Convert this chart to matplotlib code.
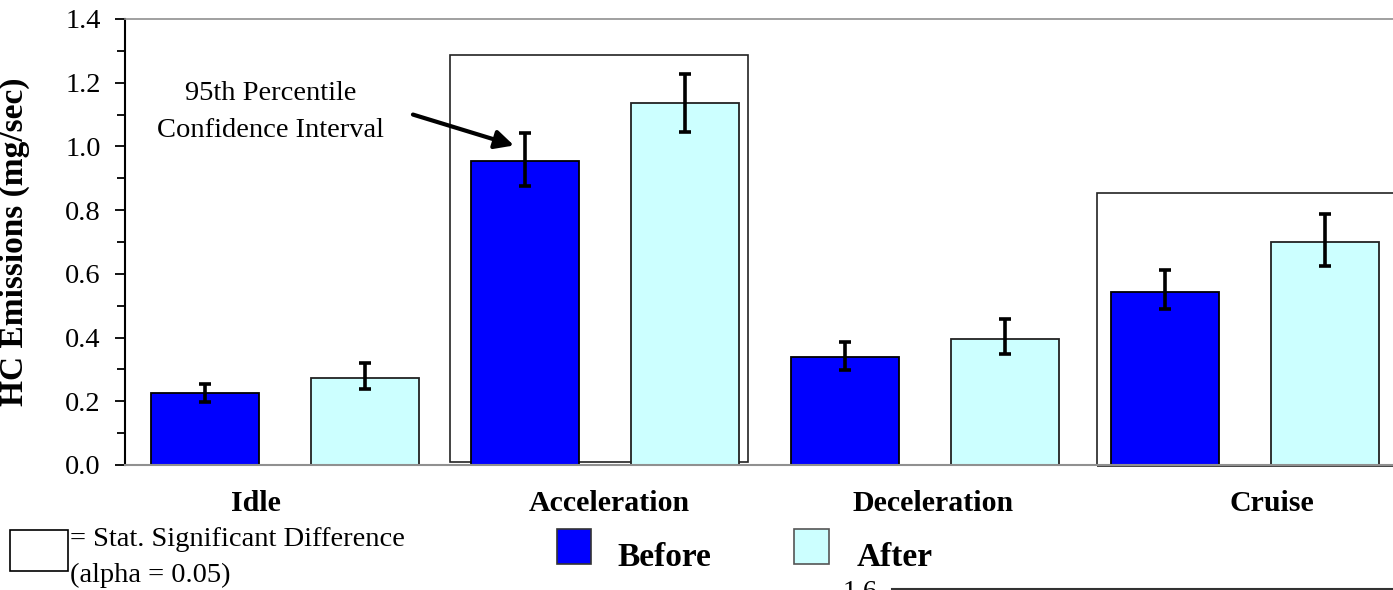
import matplotlib
matplotlib.use("Agg")
import matplotlib.pyplot as plt
from matplotlib.patches import Rectangle
from matplotlib.ticker import MultipleLocator, FormatStrFormatter
import numpy as np

plt.rcParams['font.family'] = ['Liberation Serif', 'DejaVu Serif']

modes = ['Idle', 'Acceleration', 'Deceleration', 'Cruise']
before = [0.226, 0.953, 0.340, 0.544]
before_lo = [0.198, 0.877, 0.299, 0.490]
before_hi = [0.255, 1.041, 0.387, 0.613]
after = [0.274, 1.135, 0.396, 0.701]
after_lo = [0.239, 1.044, 0.349, 0.626]
after_hi = [0.321, 1.226, 0.459, 0.789]
# groups with a statistically significant before/after difference
significant = [False, True, False, True]
sig_box_top = [None, 1.286, None, 0.855]

blue = '#0000FF'
cyan = '#CCFFFF'

fig = plt.figure(figsize=(13.93, 5.90), dpi=100)
ax = fig.add_axes([0.0897, 0.2119, 0.9189, 0.7559])

x = np.arange(len(modes))
w = 0.3375
off = 0.25

before = np.array(before)
after = np.array(after)
b_err = [before - np.array(before_lo), np.array(before_hi) - before]
a_err = [after - np.array(after_lo), np.array(after_hi) - after]

ax.bar(x - off, before, width=w, color=blue, edgecolor='black', linewidth=1.3, zorder=2)
ax.bar(x + off, after, width=w, color=cyan, edgecolor='#222222', linewidth=1.3, zorder=2)
ax.errorbar(x - off, before, yerr=b_err, fmt='none', ecolor='black', elinewidth=2.6,
            capsize=4, capthick=2.6, zorder=3)
ax.errorbar(x + off, after, yerr=a_err, fmt='none', ecolor='black', elinewidth=2.6,
            capsize=4, capthick=2.6, zorder=3)

# outline the significant groups (box edges relative to the group centre)
box_left = {1: -0.484, 3: -0.4625}
box_right = {1: 0.447, 3: 0.6}
box_bottom = {1: 0.01, 3: -0.003}
for i, sig in enumerate(significant):
    if not sig:
        continue
    left = x[i] + box_left[i]
    right = x[i] + box_right[i]
    bottom = box_bottom[i]
    ax.add_patch(Rectangle((left, bottom), right - left, sig_box_top[i] - bottom,
                           fill=False, edgecolor='#222222', linewidth=1.2, zorder=1,
                           clip_on=False))

ax.set_xlim(-0.5, 3.5)
ax.set_ylim(0, 1.4)
ax.set_xticks([])
ax.yaxis.set_major_locator(MultipleLocator(0.2))
ax.yaxis.set_minor_locator(MultipleLocator(0.1))
ax.yaxis.set_major_formatter(FormatStrFormatter('%.1f'))
ax.tick_params(axis='y', which='major', direction='out', length=7.5, width=1.3,
               labelsize=20.5, pad=10)
ax.tick_params(axis='y', which='minor', direction='out', length=6, width=1.3)

ax.spines['right'].set_visible(False)
ax.spines['left'].set_linewidth(1.5)
ax.spines['left'].set_color('black')
ax.spines['bottom'].set_color('#909090')
ax.spines['bottom'].set_linewidth(1.5)
ax.spines['top'].set_color('#909090')
ax.spines['top'].set_linewidth(1.2)

ax.set_ylabel('HC Emissions (mg/sec)', fontsize=24, fontweight='bold')
ax.yaxis.set_label_coords(-0.074, 0.5)

label_shift = [-0.09, 0.015, 0.025, 0.085]
for i, name in enumerate(modes):
    ax.text(x[i] + label_shift[i], -0.12, name, ha='center', va='center',
            fontsize=21.5, fontweight='bold', clip_on=False)

# confidence interval callout
ax.text(-0.045, 1.108, '95th Percentile\nConfidence Interval', ha='center', va='center',
        fontsize=20.5, linespacing=1.65)
ax.annotate('', xy=(0.7156, 1.003), xytext=(0.40, 1.10),
            arrowprops=dict(arrowstyle='-|>', lw=3, color='black',
                            mutation_scale=28, shrinkA=0, shrinkB=0))

# significance key
fig.patches.append(Rectangle((10 / 1393, 1 - 571 / 590), 58 / 1393, 41 / 590,
                             transform=fig.transFigure, fill=False,
                             edgecolor='black', linewidth=1.2))
fig.text(70 / 1393, 1 - 540 / 590, '= Stat. Significant Difference', fontsize=20.5,
         ha='left', va='center')
fig.text(70 / 1393, 1 - 575 / 590, '(alpha = 0.05)', fontsize=20.5, ha='left', va='center')

# series key
fig.patches.append(Rectangle((557 / 1393, 1 - 564 / 590), 34 / 1393, 35 / 590,
                             transform=fig.transFigure, facecolor=blue,
                             edgecolor='#333333', linewidth=1.2))
fig.patches.append(Rectangle((794 / 1393, 1 - 564 / 590), 35 / 1393, 35 / 590,
                             transform=fig.transFigure, facecolor=cyan,
                             edgecolor='#555555', linewidth=1.2))
fig.text(617 / 1393, 1 - 557 / 590, 'Before', fontsize=24, fontweight='bold',
         ha='left', va='center')
fig.text(857 / 1393, 1 - 557 / 590, 'After', fontsize=24, fontweight='bold',
         ha='left', va='center')

# top edge of the next panel
fig.text(843 / 1393, 1 - 580 / 590, '1.6', fontsize=20, ha='left', va='top')
fig.add_artist(plt.Line2D([892 / 1393, 1.0], [1 - 589 / 590, 1 - 589 / 590],
                          transform=fig.transFigure, color='#333333', linewidth=1.5))

fig.savefig('out.png', dpi=100)
